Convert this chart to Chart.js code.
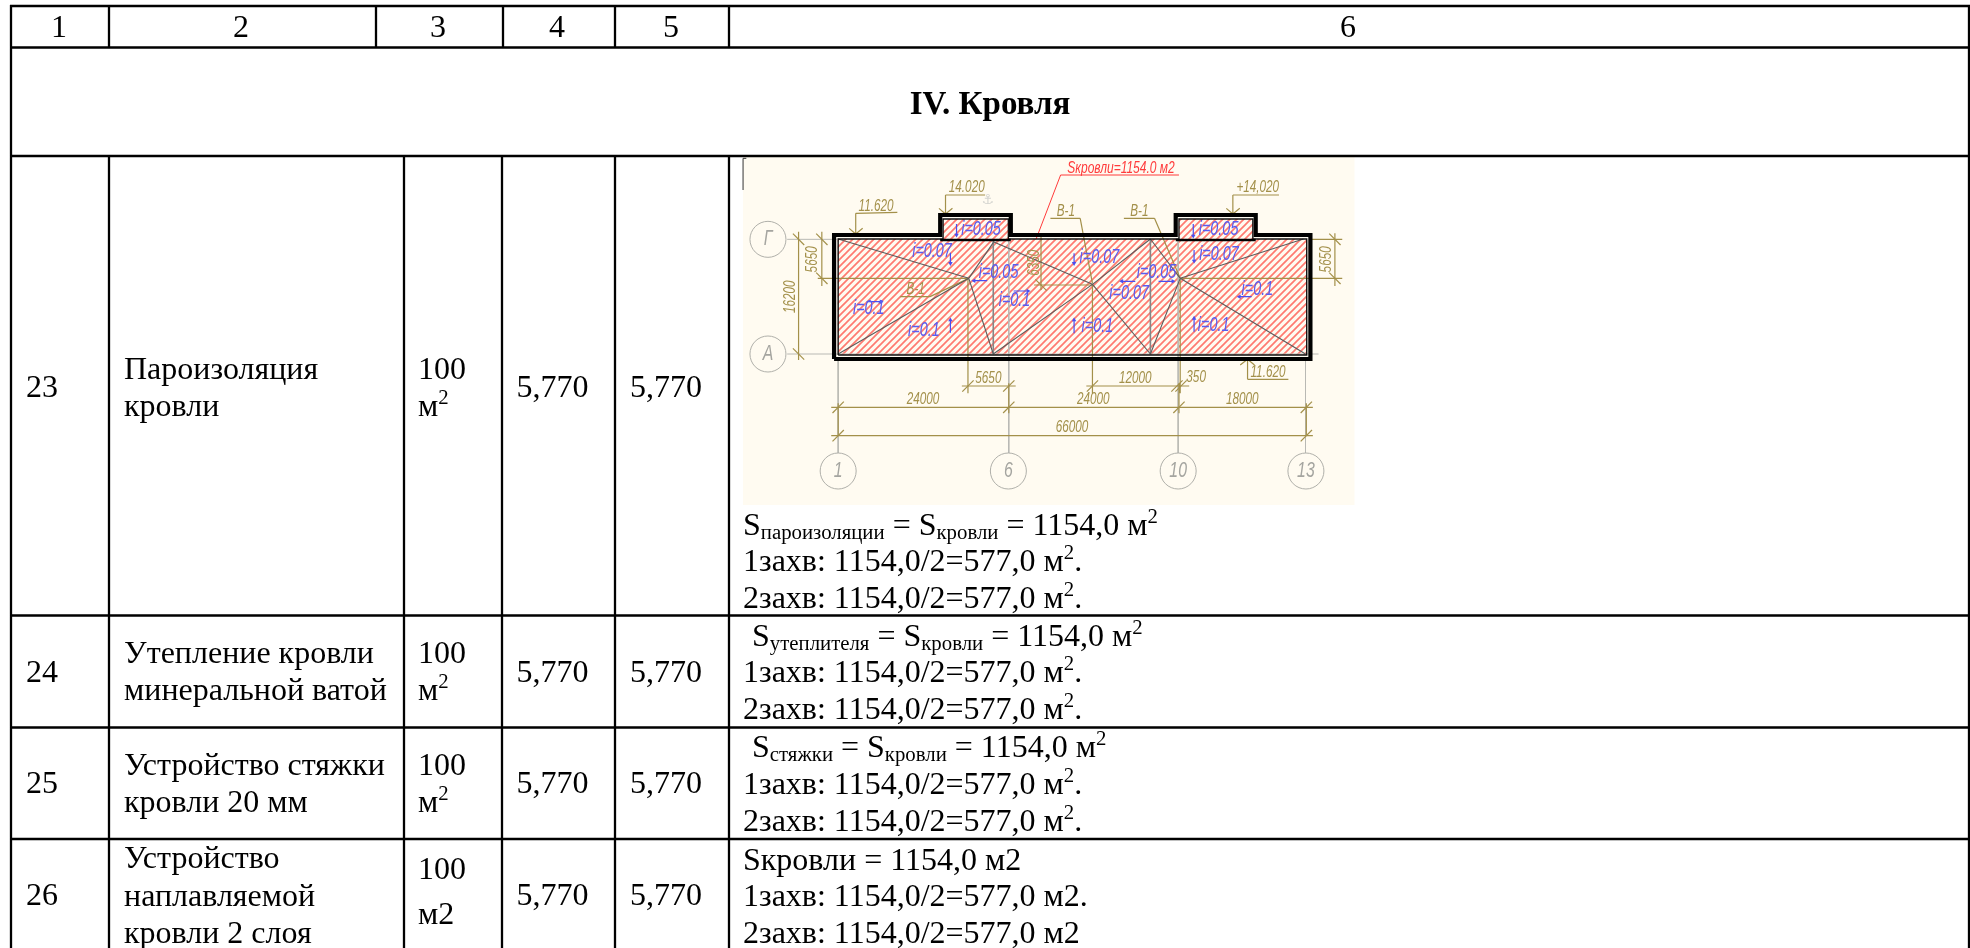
<!DOCTYPE html>
<html>
<head>
<meta charset="utf-8">
<title>IV. Кровля</title>
<style>
html, body { margin: 0; padding: 0; background: #fff; }
canvas { display: block; }
</style>
<script src="https://cdn.jsdelivr.net/npm/chart.js@4"></script>
</head>
<body>
<canvas id="sheet" width="1970" height="948"></canvas>
<script>
// table content
const headLabels = ['1', '2', '3', '4', '5', '6'];
const sectionTitle = 'IV. Кровля';
const rowNumbers = ['23', '24', '25', '26'];
const workNames = [
    ['Пароизоляция', 'кровли'],
    ['Утепление кровли', 'минеральной ватой'],
    ['Устройство стяжки', 'кровли 20 мм'],
    ['Устройство', 'наплавляемой', 'кровли 2 слоя']
];
const units = [['100', 'м^2^'], ['100', 'м^2^'], ['100', 'м^2^'], ['100', 'м2']];
const qtyDesign = ['5,770', '5,770', '5,770', '5,770'];
const qtyActual = ['5,770', '5,770', '5,770', '5,770'];
const calcLines = [
    ['S~пароизоляции~ = S~кровли~ = 1154,0 м^2^', '1захв: 1154,0/2=577,0 м^2^.', '2захв: 1154,0/2=577,0 м^2^.'],
    ['S~утеплителя~ = S~кровли~ = 1154,0 м^2^', '1захв: 1154,0/2=577,0 м^2^.', '2захв: 1154,0/2=577,0 м^2^.'],
    ['S~стяжки~ = S~кровли~ = 1154,0 м^2^', '1захв: 1154,0/2=577,0 м^2^.', '2захв: 1154,0/2=577,0 м^2^.'],
    ['Sкровли = 1154,0 м2', '1захв: 1154,0/2=577,0 м2.', '2захв: 1154,0/2=577,0 м2']
];

// table layout, sheet pixels
const headEdges = [11, 109, 376, 503, 615, 729, 1969];
const bodyEdges = [11, 109, 404, 502, 615, 729, 1969];
const rowEdges = [6, 47.5, 156, 615.5, 727.5, 839];
const headCenters = [59, 241, 438, 557, 671, 1348];
const nameBaselines = [[379, 416], [663, 700], [775, 812], [868, 906, 943]];
const unitBaselines = [[379, 416], [663, 700], [775, 812], [879, 924]];
const qtyBaselines = [397, 682, 793, 905];
const calcBaselines = [[535, 571, 608], [646, 682, 719], [757, 794, 831], [870, 906, 943]];
const calcIndent = [[743, 743, 743], [752, 743, 743], [752, 743, 743], [743, 743, 743]];

// roof plan, in units of the enlarged drawing
const outerWall = [[255, 627], [255, 255], [515, 255], [515, 195], [688, 195], [688, 255], [1092, 255], [1092, 195], [1288, 195], [1288, 255], [1422, 255], [1422, 627], [255, 627]];
const innerWall = [[265, 615], [265, 267], [522, 267], [522, 207], [682, 207], [682, 267], [1100, 267], [1100, 207], [1281, 207], [1281, 267], [1413, 267], [1413, 615], [265, 615]];
const roofField = [[264, 267], [1413, 267], [1413, 615], [264, 615], [264, 267]];
const parapetLeft = [[522, 207], [682, 207], [682, 267], [522, 267], [522, 207]];
const parapetRight = [[1100, 207], [1281, 207], [1281, 267], [1100, 267], [1100, 207]];
const parapetBase = [[515, 270, 688, 270], [1092, 270, 1288, 270]];
const ridges = [
    [265, 267, 585, 385], [265, 612, 585, 385], [585, 385, 645, 278], [585, 385, 645, 612],
    [645, 275, 888, 403], [645, 612, 888, 403], [888, 403, 1030, 267], [888, 403, 1030, 612],
    [1030, 267, 1103, 385], [1030, 612, 1103, 385], [1103, 385, 1405, 267], [1103, 385, 1410, 612]
];
const valleys = [[645, 267, 645, 612], [1030, 267, 1030, 612]];
const gridAxes = [
    [140, 268, 262, 268], [140, 612, 1442, 612], [265, 627, 265, 910], [683, 270, 683, 910],
    [1098, 270, 1098, 910], [1410, 627, 1410, 910]
];
const dimLines = [
    [1420, 268, 1500, 268], [215, 385, 585, 385], [1103, 385, 1500, 385],
    [168, 245, 168, 630], [225, 245, 225, 408], [1482, 250, 1482, 408],
    [762, 250, 762, 420], [745, 405, 888, 405],
    [583, 385, 583, 730], [888, 405, 888, 730], [1103, 385, 1103, 730],
    [568, 708, 700, 708], [873, 708, 1125, 708],
    [248, 772, 1428, 772], [248, 857, 1428, 857],
    [265, 760, 265, 857], [683, 700, 683, 790], [1100, 700, 1100, 790], [1412, 760, 1412, 857],
    // level marks
    [308, 190, 410, 187], [308, 190, 308, 252], [292, 235, 308, 252], [325, 235, 308, 252],
    [528, 135, 625, 135], [528, 135, 528, 192], [512, 175, 528, 192], [545, 175, 528, 192],
    [1232, 135, 1345, 135], [1232, 135, 1232, 192], [1216, 175, 1232, 192], [1249, 175, 1232, 192],
    [1268, 688, 1368, 688], [1268, 630, 1268, 688], [1250, 645, 1268, 628], [1285, 645, 1268, 628],
    // section leaders
    [785, 205, 858, 205], [858, 205, 888, 400], [965, 205, 1040, 205], [1040, 205, 1103, 385],
    [417, 440, 490, 440], [490, 440, 585, 385]
];
const leaderRed = [[810, 75, 750, 267], [810, 75, 1100, 75]];
const cornerMark = [[32, 120, 32, 25], [32, 25, 40, 25]];
const ticksSlash = [[583, 708], [683, 708], [888, 708], [1095, 708], [1105, 708], [265, 772], [683, 772], [1100, 772], [1412, 772], [265, 857], [1412, 857]];
const ticksBack = [[168, 268], [168, 612], [225, 268], [225, 385], [1482, 268], [1482, 385], [762, 405]];
const axisBubbles = [[93, 268], [93, 612], [265, 963], [682, 963], [1098, 963], [1411, 963]];
const axisNames = ['Г', 'А', '1', '6', '10', '13'];
const dimLabels = ['16200', '5650', '5650', '6350', '5650', '12000', '350', '24000', '24000', '18000', '66000', '11.620', '14.020', '+14,020', '11.620', 'В-1', 'В-1', 'В-1'];
const dimAt = [[148, 440, -90], [202, 328, -90], [1462, 328, -90], [745, 338, -90], [633, 684, 0], [993, 686, 0], [1142, 682, 0], [473, 748, 0], [890, 748, 0], [1255, 748, 0], [838, 832, 0], [358, 170, 0], [580, 112, 0], [1293, 112, 0], [1318, 668, 0], [823, 183, 0], [1003, 183, 0], [455, 418, 0]];
const slopeLabels = ['i=0.05', 'i=0.07', 'i=0.05', 'i=0.1', 'i=0.1', 'i=0.1', 'i=0.07', 'i=0.1', 'i=0.07', 'i=0.05', 'i=0.05', 'i=0.07', 'i=0.1', 'i=0.1'];
const slopeAt = [[615, 238], [495, 305], [658, 368], [340, 475], [475, 540], [697, 450], [905, 322], [900, 530], [978, 430], [1045, 367], [1197, 238], [1198, 312], [1292, 418], [1185, 527]];
const slopeArrows = [
    [555, 222, 555, 255], [540, 308, 540, 340], [630, 392, 598, 392], [335, 455, 370, 455],
    [540, 548, 540, 510], [695, 423, 730, 423], [843, 310, 843, 340], [843, 550, 843, 510],
    [993, 394, 960, 394], [1050, 394, 1085, 394], [1135, 222, 1135, 258], [1137, 300, 1137, 333],
    [1278, 440, 1248, 440], [1137, 545, 1137, 505]
];
const areaLabel = 'Sкровли=1154.0 м2';
const pictureBack = [[743, 157], [1354.5, 157], [1354.5, 505], [743, 505], [743, 157]];

function segments(list) {
    const pts = [];
    list.forEach(s => {
        pts.push({ x: s[0], y: s[1] }, { x: s[2], y: s[3] }, { x: NaN, y: NaN });
    });
    return pts;
}

function points(list) {
    return list.map(p => ({ x: p[0], y: p[1] }));
}

function hatch() {
    const c = document.createElement('canvas');
    c.width = c.height = 7;
    const g = c.getContext('2d');
    g.fillStyle = '#fffbf1';
    g.fillRect(0, 0, 7, 7);
    g.strokeStyle = '#ff7a70';
    g.lineWidth = 1.7;
    g.beginPath();
    g.moveTo(-1, 8); g.lineTo(8, -1);
    g.moveTo(-1, 1); g.lineTo(1, -1);
    g.moveTo(6, 8); g.lineTo(8, 6);
    g.stroke();
    return g.createPattern(c, 'repeat');
}

const stripes = hatch();

function sheetLine(data, color, width) {
    return { data: data, showLine: true, spanGaps: false, borderColor: color, borderWidth: width, pointRadius: 0, xAxisID: 'x', yAxisID: 'y' };
}
function planLine(data, color, width) {
    return { data: data, showLine: true, spanGaps: false, borderColor: color, borderWidth: width, pointRadius: 0, xAxisID: 'px', yAxisID: 'py' };
}
function planFill(data, fill) {
    return { data: data, showLine: true, borderWidth: 0, borderColor: 'transparent', backgroundColor: fill, fill: 'shape', pointRadius: 0, xAxisID: 'px', yAxisID: 'py' };
}
function tickMarks(list, rotation) {
    return { data: points(list), showLine: false, pointStyle: 'line', pointRadius: 8, pointRotation: rotation, pointBorderColor: '#a3904a', pointBorderWidth: 1.2, xAxisID: 'px', yAxisID: 'py' };
}

const gold = '#a3904a';
const tableLines = [];
rowEdges.forEach(y => tableLines.push([10, y, 1970, y]));
headEdges.forEach(x => tableLines.push([x, 5, x, 47.5]));
[bodyEdges[0], bodyEdges[6]].forEach(x => tableLines.push([x, 47.5, x, 156]));
bodyEdges.forEach(x => tableLines.push([x, 156, x, 948]));

// arrow tips sit at the end of each slope arrow
const arrowTips = slopeArrows.map(a => [a[2], a[3]]);
const arrowTurns = slopeArrows.map(a => (a[2] > a[0] ? 90 : a[2] < a[0] ? -90 : a[3] > a[1] ? 180 : 0));

const layers = [
    {
        data: points(pictureBack), showLine: true, borderWidth: 0, borderColor: 'transparent',
        backgroundColor: '#fffbf1', fill: 'shape', pointRadius: 0, xAxisID: 'x', yAxisID: 'y'
    },
    planFill(points(roofField), stripes),
    planFill(points(parapetLeft), stripes),
    planFill(points(parapetRight), stripes),
    planLine(segments(gridAxes), '#b9b9b4', 1),
    planLine(segments(dimLines), gold, 1.2),
    tickMarks(ticksSlash, -45),
    tickMarks(ticksBack, 45),
    planLine(segments(valleys), '#858585', 1.6),
    planLine(segments(ridges), '#5c5c5c', 1.1),
    planLine(segments(slopeArrows), '#4a4df0', 1.2),
    {
        data: points(arrowTips), showLine: false, pointStyle: 'triangle', pointRadius: 2.6,
        pointRotation: arrowTurns, pointBackgroundColor: '#4a4df0', pointBorderColor: '#4a4df0',
        pointBorderWidth: 0, xAxisID: 'px', yAxisID: 'py'
    },
    planLine(segments(leaderRed), '#ff3b3b', 1),
    planLine(segments(cornerMark), '#333333', 1),
    planLine(points(innerWall), '#111111', 1.4),
    planLine(points(outerWall), '#000000', 4.2),
    planLine(segments(parapetBase), '#000000', 2.4),
    {
        data: points(axisBubbles), showLine: false, pointStyle: 'circle', pointRadius: 18,
        pointBackgroundColor: '#fffbf1', pointBorderColor: '#b0b0aa', pointBorderWidth: 1,
        xAxisID: 'px', yAxisID: 'py'
    },
    sheetLine(segments(tableLines), '#000000', 2.3)
];
// later layers paint on top
layers.forEach((d, i) => { d.order = layers.length - i; });

function drawRuns(ctx, text, x, y, size, family) {
    text.split(/(~[^~]*~|\^[^^]*\^)/).filter(Boolean).forEach(part => {
        let s = part, fs = size, dy = 0;
        if (part[0] === '~') { s = part.slice(1, -1); fs = size * 0.65; dy = size * 0.14; }
        if (part[0] === '^') { s = part.slice(1, -1); fs = size * 0.65; dy = -size * 0.36; }
        ctx.font = fs + 'px ' + family;
        ctx.fillText(s, x, y + dy);
        x += ctx.measureText(s).width;
    });
}

// CAD lettering is narrower than any installed italic, so squeeze it
function squeezed(ctx, text, x, y, squeeze, angle) {
    ctx.save();
    ctx.translate(x, y);
    ctx.rotate((angle || 0) * Math.PI / 180);
    ctx.scale(squeeze, 1);
    ctx.fillText(text, 0, 0);
    ctx.restore();
}

const sheetText = {
    id: 'sheetText',
    afterDatasetsDraw(chart) {
        const ctx = chart.ctx;
        const sx = chart.scales.x, sy = chart.scales.y;
        const px = chart.scales.px, py = chart.scales.py;
        const serif = '"Liberation Serif", serif';
        const cad = '"Liberation Sans", sans-serif';
        ctx.save();
        ctx.fillStyle = '#000';
        ctx.textBaseline = 'alphabetic';

        ctx.textAlign = 'center';
        ctx.font = '32px ' + serif;
        headLabels.forEach((t, i) => ctx.fillText(t, sx.getPixelForValue(headCenters[i]), sy.getPixelForValue(37)));
        ctx.font = 'bold 33px ' + serif;
        ctx.fillText(sectionTitle, sx.getPixelForValue(990), sy.getPixelForValue(114));

        ctx.font = '32px ' + serif;
        qtyDesign.forEach((t, i) => ctx.fillText(t, sx.getPixelForValue(552.5), sy.getPixelForValue(qtyBaselines[i])));
        qtyActual.forEach((t, i) => ctx.fillText(t, sx.getPixelForValue(666), sy.getPixelForValue(qtyBaselines[i])));

        ctx.textAlign = 'left';
        rowNumbers.forEach((t, i) => ctx.fillText(t, sx.getPixelForValue(26), sy.getPixelForValue(qtyBaselines[i])));
        workNames.forEach((lines, i) => lines.forEach((t, j) => ctx.fillText(t, sx.getPixelForValue(124), sy.getPixelForValue(nameBaselines[i][j]))));
        units.forEach((lines, i) => lines.forEach((t, j) => drawRuns(ctx, t, sx.getPixelForValue(418), sy.getPixelForValue(unitBaselines[i][j]), 32, serif)));
        calcLines.forEach((lines, i) => lines.forEach((t, j) => drawRuns(ctx, t, sx.getPixelForValue(calcIndent[i][j]), sy.getPixelForValue(calcBaselines[i][j]), 32, serif)));

        // drawing labels
        ctx.textAlign = 'center';
        ctx.textBaseline = 'middle';
        ctx.font = 'italic 22px ' + cad;
        ctx.fillStyle = '#a5a5a0';
        axisNames.forEach((t, i) => squeezed(ctx, t, px.getPixelForValue(axisBubbles[i][0]), py.getPixelForValue(axisBubbles[i][1]), 0.72));

        ctx.font = 'italic 17px ' + cad;
        ctx.fillStyle = '#a3904a';
        dimLabels.forEach((t, i) => squeezed(ctx, t, px.getPixelForValue(dimAt[i][0]), py.getPixelForValue(dimAt[i][1]), 0.69, dimAt[i][2]));

        ctx.font = 'italic 20px ' + cad;
        ctx.fillStyle = '#5a5cf0';
        slopeLabels.forEach((t, i) => squeezed(ctx, t, px.getPixelForValue(slopeAt[i][0]), py.getPixelForValue(slopeAt[i][1]), 0.72));

        ctx.font = 'italic 16px ' + cad;
        ctx.fillStyle = '#ff3b3b';
        squeezed(ctx, areaLabel, px.getPixelForValue(958), py.getPixelForValue(55), 0.75);

        ctx.font = '14px "DejaVu Sans"';
        ctx.fillStyle = '#d4d4d0';
        ctx.fillText('⚓', px.getPixelForValue(632), py.getPixelForValue(150));
        ctx.restore();
    }
};

new Chart(document.getElementById('sheet'), {
    type: 'scatter',
    data: { datasets: layers },
    plugins: [sheetText],
    options: {
        responsive: false,
        animation: false,
        events: [],
        layout: { padding: 0, autoPadding: false },
        plugins: { legend: { display: false }, tooltip: { enabled: false } },
        scales: {
            x: { type: 'linear', display: false, min: 0, max: 1970 },
            y: { type: 'linear', display: false, min: 0, max: 948, reverse: true },
            px: { type: 'linear', display: false, min: -1788.5, max: 3038 },
            py: { type: 'linear', display: false, min: -450, max: 2394, reverse: true }
        }
    }
});
</script>
</body>
</html>
